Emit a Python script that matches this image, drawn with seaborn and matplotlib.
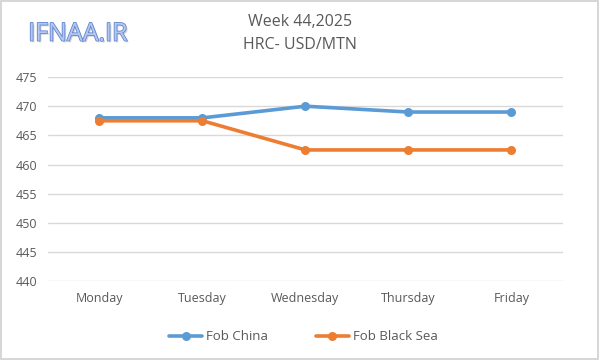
import matplotlib
matplotlib.use("Agg")
import matplotlib.pyplot as plt
import matplotlib.patheffects as pe
from matplotlib.patches import Rectangle
from matplotlib.lines import Line2D
import seaborn as sns
import pandas as pd

days = ["Monday", "Tuesday", "Wednesday", "Thursday", "Friday"]
fob_china = [468, 468, 470, 469, 469]
fob_black_sea = [467.5, 467.5, 462.5, 462.5, 462.5]
series_names = ["Fob China", "Fob Black Sea"]
yticks = [440, 445, 450, 455, 460, 465, 470, 475]

df = pd.DataFrame({
    "day": days * 2,
    "value": fob_china + fob_black_sea,
    "series": [series_names[0]] * len(days) + [series_names[1]] * len(days),
})

sns.set_style("white")
plt.rcParams["font.family"] = ["Open Sans", "DejaVu Sans"]

fig = plt.figure(figsize=(6, 3.6), dpi=100)
ax = fig.add_axes([0.08, 0.219, 0.858, 0.567])

palette = {"Fob China": "#5B9BD5", "Fob Black Sea": "#ED7D31"}
sns.lineplot(data=df, x="day", y="value", hue="series", palette=palette,
             marker="o", markersize=6.5, markeredgewidth=0, linewidth=2.6,
             sort=False, ax=ax, legend=False)

ax.set_ylim(440, 475)
ax.set_xlim(-0.5, 4.5)
ax.set_yticks(yticks)
ax.set_xticks(range(len(days)))
ax.set_xticklabels(days)
ax.set_xlabel("")
ax.set_ylabel("")
ax.grid(axis="y", color="#d9d9d9", linewidth=1)
ax.set_axisbelow(True)
for s in ax.spines.values():
    s.set_visible(False)
ax.tick_params(axis="both", length=0, labelsize=9, labelcolor="#595959")
ax.tick_params(axis="y", pad=8)
ax.tick_params(axis="x", pad=8)

# Title
fig.text(0.5, 0.94, "Week 44,2025", ha="center", va="center", fontsize=11.5, color="#595959")
fig.text(0.5, 0.875, "HRC- USD/MTN", ha="center", va="center", fontsize=11.5, color="#595959")

# Watermark
fig.text(0.047, 0.905, "IFNAA.IR", ha="left", va="center", fontsize=18, color="#b4c8ef",
         path_effects=[pe.SimplePatchShadow(offset=(1.2, -1.2), shadow_rgbFace="#c8c8d0", alpha=0.8),
                       pe.withStroke(linewidth=1.1, foreground="#5a7fcf")])

# Legend
handles = [Line2D([0], [0], color=palette[n], lw=2.6, marker="o", markersize=6.5, markeredgewidth=0)
           for n in series_names]
fig.legend(handles, series_names, loc="center", bbox_to_anchor=(0.506, 0.064), ncol=2,
           frameon=False, fontsize=9.5, labelcolor="#595959", handlelength=2.5,
           columnspacing=3.6, handletextpad=0.3)

# Border
fig.add_artist(Rectangle((0.002, 0.003), 0.995, 0.994, transform=fig.transFigure,
                         fill=False, edgecolor="#d0d0d0", linewidth=1.2))

fig.savefig("out.png", dpi=100, facecolor="white")
